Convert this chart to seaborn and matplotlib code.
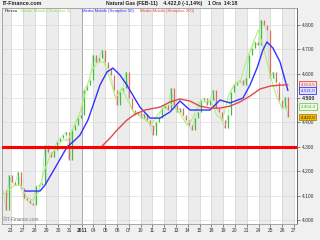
import numpy as np
import matplotlib
matplotlib.use("Agg")
import matplotlib.pyplot as plt
import matplotlib.transforms as mtransforms
import seaborn as sns

# ---------------- data ----------------
day_labels = ["23", "27", "28", "29", "30", "31", "2011", "04", "05", "06", "07", "10",
              "11", "12", "13", "14", "15", "18", "19", "20", "21", "24", "25", "26", "27"]
y_ticks = [4.0, 4.1, 4.2, 4.3, 4.4, 4.5, 4.6, 4.7, 4.8]

# price closes (evenly spaced in time, start -> last bar)
price_start, price_end = -0.68, 23.49
price_close = [4.123, 4.041, 4.184, 4.156, 4.143, 4.197, 4.131, 4.090, 4.082, 4.070,
               4.061, 4.139, 4.143, 4.152, 4.307, 4.279, 4.258, 4.287, 4.320, 4.336,
               4.348, 4.361, 4.246, 4.369, 4.389, 4.418, 4.430, 4.533, 4.553, 4.574,
               4.676, 4.648, 4.664, 4.697, 4.648, 4.623, 4.594, 4.533, 4.471, 4.525,
               4.541, 4.607, 4.500, 4.451, 4.430, 4.443, 4.418, 4.434, 4.410, 4.389,
               4.348, 4.402, 4.418, 4.459, 4.471, 4.451, 4.541, 4.471, 4.443, 4.459,
               4.430, 4.410, 4.389, 4.369, 4.418, 4.443, 4.492, 4.500, 4.471, 4.492,
               4.533, 4.459, 4.443, 4.410, 4.377, 4.430, 4.525, 4.553, 4.566, 4.574,
               4.553, 4.582, 4.676, 4.705, 4.730, 4.717, 4.820, 4.799, 4.779, 4.582,
               4.607, 4.566, 4.492, 4.459, 4.504, 4.422]

ma5 = [4.102, 4.123, 4.143, 4.143, 4.094, 4.082, 4.115, 4.205, 4.266, 4.295,
       4.328, 4.328, 4.389, 4.443, 4.533, 4.615, 4.648, 4.648, 4.582, 4.500,
       4.541, 4.492, 4.443, 4.430, 4.410, 4.389, 4.430, 4.459, 4.484, 4.459,
       4.430, 4.389, 4.418, 4.484, 4.484, 4.492, 4.430, 4.410, 4.512, 4.557,
       4.566, 4.656, 4.717, 4.779, 4.697, 4.594, 4.512, 4.459, 4.4644]

ma50_x = [1.19, 1.87, 2.46, 2.88, 3.73, 4.75, 5.43, 5.85, 6.53, 7.55, 8.14, 8.65,
          9.25, 9.84, 10.43, 10.94, 11.79, 12.64, 13.49, 14.33, 15.18, 16.03, 16.88,
          17.73, 18.58, 19.68, 20.27, 20.87, 21.37, 21.71, 22.22, 22.82, 23.49]
ma50 = [4.119, 4.119, 4.119, 4.143, 4.213, 4.299, 4.328, 4.348, 4.410, 4.553, 4.607,
        4.623, 4.594, 4.553, 4.504, 4.463, 4.418, 4.418, 4.443, 4.488, 4.451, 4.451,
        4.451, 4.492, 4.480, 4.500, 4.553, 4.623, 4.697, 4.730, 4.705, 4.648, 4.531]

ma200_x = [7.72, 8.40, 9.08, 9.84, 10.52, 11.37, 12.64, 13.49, 14.33, 15.18, 16.03,
           16.88, 17.73, 18.58, 19.42, 20.27, 21.12, 21.97, 22.82, 23.49]
ma200 = [4.303, 4.336, 4.373, 4.410, 4.434, 4.451, 4.463, 4.484, 4.496, 4.488, 4.467,
         4.459, 4.459, 4.467, 4.484, 4.508, 4.537, 4.549, 4.553, 4.5545]

support_level = 4.300
last_price = 4.422
change_pct = -1.14

# ---------------- style ----------------
sns.set_style("white")
plt.rcParams['font.family'] = ['Liberation Sans', 'DejaVu Sans']

GREEN_C = '#3cbf3c'
RED_C = '#e06a6a'
MA5_C = '#b0f07a'
MA50_C = '#3333ff'
MA200_C = '#e04848'


def it_fmt(v, dec=1):
    s = f"{v * 1000:,.{dec}f}"
    return s.replace(",", "X").replace(".", ",").replace("X", ".")


fig = plt.figure(figsize=(3.2, 2.4), dpi=100, facecolor='#f0f0f0')
ax = fig.add_axes([2 / 320, 16 / 240, 295 / 320, 216 / 240])
ax.set_facecolor('white')

xmin, xmax = -0.76, 24.26
ax.set_xlim(xmin, xmax)
ax.set_ylim(3.984, 4.869)

# day bands and grid
for k in range(-1, len(day_labels), 2):
    ax.axvspan(k, k + 1, color='#ececec', zorder=0, lw=0)
for k in range(len(day_labels)):
    ax.axvline(k, color='#9a9a9a' if day_labels[k] == "2011" else '#d6d6d6',
               lw=0.6, zorder=0.5)
for t in y_ticks:
    ax.axhline(t, color='#dcdcdc', lw=0.5, zorder=0.5)

ax.axhline(support_level, color='#ff0000', lw=2.2, zorder=5)

# price candles (open = previous close)
closes = np.array(price_close)
opens = np.concatenate([[closes[0]], closes[:-1]])
px = np.linspace(price_start, price_end, len(closes))
cols = [GREEN_C if c >= o else RED_C for o, c in zip(opens, closes)]
ax.plot(px, closes, color='#9ad49a', lw=0.35, zorder=1.8)
ax.vlines(px, np.minimum(opens, closes), np.maximum(opens, closes),
          colors=cols, lw=0.9, zorder=2)

ma5_x = np.linspace(price_start, price_end, len(ma5))
sns.lineplot(x=ma5_x, y=ma5, color=MA5_C, lw=0.8, ax=ax, zorder=3)
sns.lineplot(x=ma50_x, y=ma50, color=MA50_C, lw=1.0, ax=ax, zorder=4)
sns.lineplot(x=ma200_x, y=ma200, color=MA200_C, lw=1.0, ax=ax, zorder=4)

# axes
ax.yaxis.tick_right()
ax.set_yticks(y_ticks)
ax.set_yticklabels([f"{t:.3f}" for t in y_ticks], fontsize=3.5, color='#333333')
for lab, t in zip(ax.get_yticklabels(), y_ticks):
    if abs(t - 4.5) < 1e-9:
        lab.set_fontweight('bold')
        lab.set_fontsize(3.8)
ax.set_xticks(range(len(day_labels)))
ax.set_xticklabels(day_labels, fontsize=3.5, color='#333333')
for lab in ax.get_xticklabels():
    if lab.get_text() == "2011":
        lab.set_fontweight('bold')
ax.tick_params(axis='both', length=2, width=0.5, pad=1.2, colors='#555555',
               labelcolor='#333333', right=True, bottom=True)
for side, sp in ax.spines.items():
    sp.set_color('#9a9a9a')
    sp.set_linewidth(0.6)
ax.spines['right'].set_color('#555555')
ax.set_xlabel("")
ax.set_ylabel("")

# legend row
leg = [("Prezzo", '#222222', 0.010), ("Media Mobile (Semplice 5)", '#8fe050', 0.064),
       ("Media Mobile (Semplice 50)", MA50_C, 0.271),
       ("Media Mobile (Semplice 200)", MA200_C, 0.468)]
for txt, c, xf in leg:
    ax.text(xf, 0.995, txt, transform=ax.transAxes, fontsize=3.1, color=c,
            va='top', ha='left', zorder=6)

ax.text(0.004, 0.008, "©IT-Finance.com", transform=ax.transAxes, fontsize=3.4,
        color='#777777', va='bottom', ha='left', zorder=6)

# value boxes
trans = mtransforms.blended_transform_factory(ax.transAxes, ax.transData)
boxes = [(ma200[-1], MA200_C, '#f6e2e2', MA200_C),
         (ma50[-1], MA50_C, '#e2e2f8', MA50_C),
         (ma5[-1], '#7acc4a', '#f0fae8', '#55aa33'),
         (last_price, '#b08800', '#f2b800', '#222222')]
for v, ec, fc, tc in boxes:
    ax.text(1.012, v, it_fmt(v), transform=trans, fontsize=3.2, color=tc,
            va='center', ha='left', clip_on=False, zorder=7,
            bbox=dict(boxstyle='square,pad=0.3', fc=fc, ec=ec, lw=0.6))

# header
fig.text(3 / 320, 1 - 3.5 / 240, "IT-Finance.com", fontsize=3.9, fontweight='bold',
         color='#222222', va='center', ha='left')
chg = f"{change_pct:+.2f}".replace(".", ",")
fig.text(172 / 320, 1 - 3.5 / 240,
         f"Natural Gas (FEB-11)    {it_fmt(last_price)} ({chg}%)    1 Ora  14:18",
         fontsize=3.7, fontweight='bold', color='#222222', va='center', ha='center')

fig.savefig("out.png", dpi=100, facecolor=fig.get_facecolor())
